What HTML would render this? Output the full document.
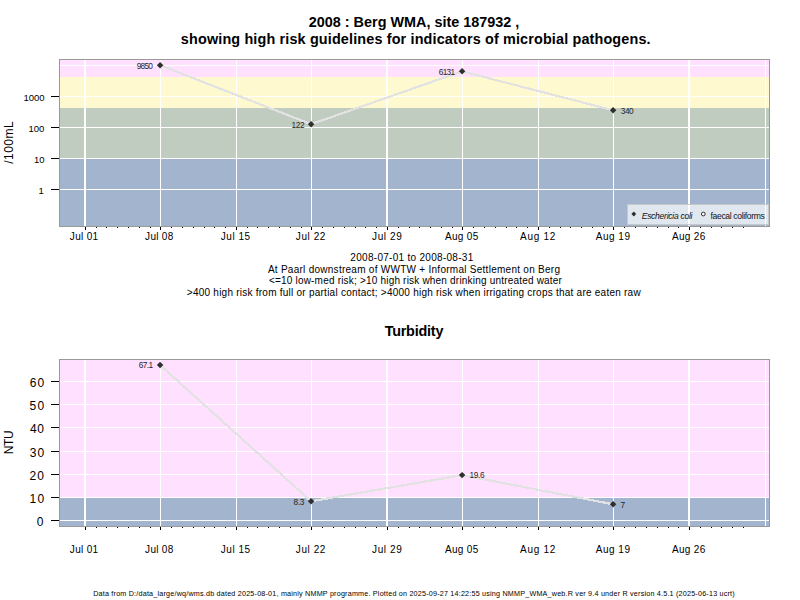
<!DOCTYPE html>
<html lang="en"><head><meta charset="utf-8"><title>2008 : Berg WMA, site 187932</title>
<style>
html,body{margin:0;padding:0;background:#fff;}
body{width:800px;height:600px;overflow:hidden;}
svg{display:block;}
text{font-family:"Liberation Sans", Arial, sans-serif;fill:#000;white-space:pre;}
.t10{font-size:10px;}
.t9{font-size:9.5px;}
.t12{font-size:12px;}
.ttl{font-size:14.4px;font-weight:bold;}
.lab{font-size:8.3px;fill:#262626;}
.leg{font-size:8.6px;fill:#111;}
.foot{font-size:7.2px;}
.ce{shape-rendering:crispEdges;}
</style></head><body>
<svg width="800" height="600" viewBox="0 0 800 600">
<rect x="0" y="0" width="800" height="600" fill="#ffffff"/>
<rect class="ce" x="60" y="60" width="709" height="17" fill="#FFE0FF"/>
<rect class="ce" x="60" y="77" width="709" height="31" fill="#FFF9D0"/>
<rect class="ce" x="60" y="108" width="709" height="51" fill="#C1CCC1"/>
<rect class="ce" x="60" y="159" width="709" height="67" fill="#A2B4CE"/>
<rect class="ce" x="60" y="65" width="709" height="1" fill="#fff"/>
<rect class="ce" x="60" y="96" width="709" height="1" fill="#fff"/>
<rect class="ce" x="60" y="127" width="709" height="1" fill="#fff"/>
<rect class="ce" x="60" y="158" width="709" height="1" fill="#fff"/>
<rect class="ce" x="60" y="189" width="709" height="1" fill="#fff"/>
<rect class="ce" x="84" y="60" width="2" height="166" fill="#fff"/>
<rect class="ce" x="160" y="60" width="1" height="166" fill="#fff"/>
<rect class="ce" x="236" y="60" width="1" height="166" fill="#fff"/>
<rect class="ce" x="311" y="60" width="1" height="166" fill="#fff"/>
<rect class="ce" x="386" y="60" width="2" height="166" fill="#fff"/>
<rect class="ce" x="462" y="60" width="1" height="166" fill="#fff"/>
<rect class="ce" x="538" y="60" width="1" height="166" fill="#fff"/>
<rect class="ce" x="613" y="60" width="1" height="166" fill="#fff"/>
<rect class="ce" x="688" y="60" width="2" height="166" fill="#fff"/>
<rect class="ce" x="765" y="60" width="1" height="166" fill="#fff"/>
<path d="M160.1 65.2 L311.1 124.2 L462.1 71.3 L613.1 110.3" fill="none" stroke="#E2E2E2" stroke-width="2.2" stroke-linejoin="round" shape-rendering="crispEdges"/>
<path d="M160.1 62L163.3 65.2L160.1 68.4L156.9 65.2Z" fill="#2E2E2E"/>
<path d="M311.1 121L314.3 124.2L311.1 127.4L307.9 124.2Z" fill="#2E2E2E"/>
<path d="M462.1 68.1L465.3 71.3L462.1 74.5L458.9 71.3Z" fill="#2E2E2E"/>
<path d="M613.1 107.1L616.3 110.3L613.1 113.5L609.9 110.3Z" fill="#2E2E2E"/>
<rect class="ce" x="627.5" y="204.5" width="141" height="20" fill="#ffffff" fill-opacity="0.68" stroke="#C8C8C8" stroke-width="1"/>
<path d="M633.8 211.6L636.2 214L633.8 216.4L631.4 214Z" fill="#2E2E2E"/>
<circle cx="703.3" cy="214" r="1.9" fill="#fff" fill-opacity="0.6" stroke="#222" stroke-width="0.9"/>
<rect class="ce" x="59.5" y="59.5" width="710" height="167" fill="none" stroke="#999999" stroke-width="1"/>
<rect class="ce" x="51" y="96" width="8" height="1" fill="#000"/>
<rect class="ce" x="51" y="127" width="8" height="1" fill="#000"/>
<rect class="ce" x="51" y="158" width="8" height="1" fill="#000"/>
<rect class="ce" x="51" y="189" width="8" height="1" fill="#000"/>
<rect class="ce" x="85" y="227" width="1" height="3" fill="#000"/>
<rect class="ce" x="160" y="227" width="1" height="3" fill="#000"/>
<rect class="ce" x="236" y="227" width="1" height="3" fill="#000"/>
<rect class="ce" x="311" y="227" width="1" height="3" fill="#000"/>
<rect class="ce" x="387" y="227" width="1" height="3" fill="#000"/>
<rect class="ce" x="462" y="227" width="1" height="3" fill="#000"/>
<rect class="ce" x="538" y="227" width="1" height="3" fill="#000"/>
<rect class="ce" x="613" y="227" width="1" height="3" fill="#000"/>
<rect class="ce" x="689" y="227" width="1" height="3" fill="#000"/>
<rect class="ce" x="96" y="227" width="1" height="1" fill="#000"/>
<rect class="ce" x="106" y="227" width="1" height="1" fill="#000"/>
<rect class="ce" x="117" y="227" width="1" height="1" fill="#000"/>
<rect class="ce" x="128" y="227" width="1" height="1" fill="#000"/>
<rect class="ce" x="139" y="227" width="1" height="1" fill="#000"/>
<rect class="ce" x="150" y="227" width="1" height="1" fill="#000"/>
<rect class="ce" x="171" y="227" width="1" height="1" fill="#000"/>
<rect class="ce" x="182" y="227" width="1" height="1" fill="#000"/>
<rect class="ce" x="193" y="227" width="1" height="1" fill="#000"/>
<rect class="ce" x="204" y="227" width="1" height="1" fill="#000"/>
<rect class="ce" x="214" y="227" width="1" height="1" fill="#000"/>
<rect class="ce" x="225" y="227" width="1" height="1" fill="#000"/>
<rect class="ce" x="247" y="227" width="1" height="1" fill="#000"/>
<rect class="ce" x="257" y="227" width="1" height="1" fill="#000"/>
<rect class="ce" x="268" y="227" width="1" height="1" fill="#000"/>
<rect class="ce" x="279" y="227" width="1" height="1" fill="#000"/>
<rect class="ce" x="290" y="227" width="1" height="1" fill="#000"/>
<rect class="ce" x="301" y="227" width="1" height="1" fill="#000"/>
<rect class="ce" x="322" y="227" width="1" height="1" fill="#000"/>
<rect class="ce" x="333" y="227" width="1" height="1" fill="#000"/>
<rect class="ce" x="344" y="227" width="1" height="1" fill="#000"/>
<rect class="ce" x="355" y="227" width="1" height="1" fill="#000"/>
<rect class="ce" x="365" y="227" width="1" height="1" fill="#000"/>
<rect class="ce" x="376" y="227" width="1" height="1" fill="#000"/>
<rect class="ce" x="398" y="227" width="1" height="1" fill="#000"/>
<rect class="ce" x="409" y="227" width="1" height="1" fill="#000"/>
<rect class="ce" x="419" y="227" width="1" height="1" fill="#000"/>
<rect class="ce" x="430" y="227" width="1" height="1" fill="#000"/>
<rect class="ce" x="441" y="227" width="1" height="1" fill="#000"/>
<rect class="ce" x="452" y="227" width="1" height="1" fill="#000"/>
<rect class="ce" x="473" y="227" width="1" height="1" fill="#000"/>
<rect class="ce" x="484" y="227" width="1" height="1" fill="#000"/>
<rect class="ce" x="495" y="227" width="1" height="1" fill="#000"/>
<rect class="ce" x="506" y="227" width="1" height="1" fill="#000"/>
<rect class="ce" x="516" y="227" width="1" height="1" fill="#000"/>
<rect class="ce" x="527" y="227" width="1" height="1" fill="#000"/>
<rect class="ce" x="549" y="227" width="1" height="1" fill="#000"/>
<rect class="ce" x="560" y="227" width="1" height="1" fill="#000"/>
<rect class="ce" x="570" y="227" width="1" height="1" fill="#000"/>
<rect class="ce" x="581" y="227" width="1" height="1" fill="#000"/>
<rect class="ce" x="592" y="227" width="1" height="1" fill="#000"/>
<rect class="ce" x="603" y="227" width="1" height="1" fill="#000"/>
<rect class="ce" x="624" y="227" width="1" height="1" fill="#000"/>
<rect class="ce" x="635" y="227" width="1" height="1" fill="#000"/>
<rect class="ce" x="646" y="227" width="1" height="1" fill="#000"/>
<rect class="ce" x="657" y="227" width="1" height="1" fill="#000"/>
<rect class="ce" x="668" y="227" width="1" height="1" fill="#000"/>
<rect class="ce" x="678" y="227" width="1" height="1" fill="#000"/>
<rect class="ce" x="700" y="227" width="1" height="1" fill="#000"/>
<rect class="ce" x="711" y="227" width="1" height="1" fill="#000"/>
<rect class="ce" x="721" y="227" width="1" height="1" fill="#000"/>
<rect class="ce" x="732" y="227" width="1" height="1" fill="#000"/>
<rect class="ce" x="743" y="227" width="1" height="1" fill="#000"/>
<rect class="ce" x="60" y="360" width="709" height="138" fill="#FFE0FF"/>
<rect class="ce" x="60" y="498" width="709" height="28" fill="#A2B4CE"/>
<rect class="ce" x="60" y="381" width="709" height="1" fill="#fff"/>
<rect class="ce" x="60" y="404" width="709" height="1" fill="#fff"/>
<rect class="ce" x="60" y="427" width="709" height="1" fill="#fff"/>
<rect class="ce" x="60" y="451" width="709" height="1" fill="#fff"/>
<rect class="ce" x="60" y="474" width="709" height="1" fill="#fff"/>
<rect class="ce" x="60" y="497" width="709" height="1" fill="#fff"/>
<rect class="ce" x="60" y="520" width="709" height="1" fill="#fff"/>
<rect class="ce" x="84" y="360" width="2" height="166" fill="#fff"/>
<rect class="ce" x="160" y="360" width="1" height="166" fill="#fff"/>
<rect class="ce" x="236" y="360" width="1" height="166" fill="#fff"/>
<rect class="ce" x="311" y="360" width="1" height="166" fill="#fff"/>
<rect class="ce" x="386" y="360" width="2" height="166" fill="#fff"/>
<rect class="ce" x="462" y="360" width="1" height="166" fill="#fff"/>
<rect class="ce" x="538" y="360" width="1" height="166" fill="#fff"/>
<rect class="ce" x="613" y="360" width="1" height="166" fill="#fff"/>
<rect class="ce" x="688" y="360" width="2" height="166" fill="#fff"/>
<rect class="ce" x="765" y="360" width="1" height="166" fill="#fff"/>
<path d="M160.1 365.049 L311.1 501.271 L462.1 475.093 L613.1 504.283" fill="none" stroke="#E2E2E2" stroke-width="2.2" stroke-linejoin="round" shape-rendering="crispEdges"/>
<path d="M160.1 361.849L163.3 365.049L160.1 368.249L156.9 365.049Z" fill="#2E2E2E"/>
<path d="M311.1 498.071L314.3 501.271L311.1 504.471L307.9 501.271Z" fill="#2E2E2E"/>
<path d="M462.1 471.893L465.3 475.093L462.1 478.293L458.9 475.093Z" fill="#2E2E2E"/>
<path d="M613.1 501.083L616.3 504.283L613.1 507.483L609.9 504.283Z" fill="#2E2E2E"/>
<rect class="ce" x="59.5" y="359.5" width="710" height="167" fill="none" stroke="#999999" stroke-width="1"/>
<rect class="ce" x="51" y="381" width="8" height="1" fill="#000"/>
<rect class="ce" x="51" y="404" width="8" height="1" fill="#000"/>
<rect class="ce" x="51" y="427" width="8" height="1" fill="#000"/>
<rect class="ce" x="51" y="451" width="8" height="1" fill="#000"/>
<rect class="ce" x="51" y="474" width="8" height="1" fill="#000"/>
<rect class="ce" x="51" y="497" width="8" height="1" fill="#000"/>
<rect class="ce" x="51" y="520" width="8" height="1" fill="#000"/>
<rect class="ce" x="85" y="527" width="1" height="3" fill="#000"/>
<rect class="ce" x="160" y="527" width="1" height="3" fill="#000"/>
<rect class="ce" x="236" y="527" width="1" height="3" fill="#000"/>
<rect class="ce" x="311" y="527" width="1" height="3" fill="#000"/>
<rect class="ce" x="387" y="527" width="1" height="3" fill="#000"/>
<rect class="ce" x="462" y="527" width="1" height="3" fill="#000"/>
<rect class="ce" x="538" y="527" width="1" height="3" fill="#000"/>
<rect class="ce" x="613" y="527" width="1" height="3" fill="#000"/>
<rect class="ce" x="689" y="527" width="1" height="3" fill="#000"/>
<rect class="ce" x="96" y="527" width="1" height="1" fill="#000"/>
<rect class="ce" x="106" y="527" width="1" height="1" fill="#000"/>
<rect class="ce" x="117" y="527" width="1" height="1" fill="#000"/>
<rect class="ce" x="128" y="527" width="1" height="1" fill="#000"/>
<rect class="ce" x="139" y="527" width="1" height="1" fill="#000"/>
<rect class="ce" x="150" y="527" width="1" height="1" fill="#000"/>
<rect class="ce" x="171" y="527" width="1" height="1" fill="#000"/>
<rect class="ce" x="182" y="527" width="1" height="1" fill="#000"/>
<rect class="ce" x="193" y="527" width="1" height="1" fill="#000"/>
<rect class="ce" x="204" y="527" width="1" height="1" fill="#000"/>
<rect class="ce" x="214" y="527" width="1" height="1" fill="#000"/>
<rect class="ce" x="225" y="527" width="1" height="1" fill="#000"/>
<rect class="ce" x="247" y="527" width="1" height="1" fill="#000"/>
<rect class="ce" x="257" y="527" width="1" height="1" fill="#000"/>
<rect class="ce" x="268" y="527" width="1" height="1" fill="#000"/>
<rect class="ce" x="279" y="527" width="1" height="1" fill="#000"/>
<rect class="ce" x="290" y="527" width="1" height="1" fill="#000"/>
<rect class="ce" x="301" y="527" width="1" height="1" fill="#000"/>
<rect class="ce" x="322" y="527" width="1" height="1" fill="#000"/>
<rect class="ce" x="333" y="527" width="1" height="1" fill="#000"/>
<rect class="ce" x="344" y="527" width="1" height="1" fill="#000"/>
<rect class="ce" x="355" y="527" width="1" height="1" fill="#000"/>
<rect class="ce" x="365" y="527" width="1" height="1" fill="#000"/>
<rect class="ce" x="376" y="527" width="1" height="1" fill="#000"/>
<rect class="ce" x="398" y="527" width="1" height="1" fill="#000"/>
<rect class="ce" x="409" y="527" width="1" height="1" fill="#000"/>
<rect class="ce" x="419" y="527" width="1" height="1" fill="#000"/>
<rect class="ce" x="430" y="527" width="1" height="1" fill="#000"/>
<rect class="ce" x="441" y="527" width="1" height="1" fill="#000"/>
<rect class="ce" x="452" y="527" width="1" height="1" fill="#000"/>
<rect class="ce" x="473" y="527" width="1" height="1" fill="#000"/>
<rect class="ce" x="484" y="527" width="1" height="1" fill="#000"/>
<rect class="ce" x="495" y="527" width="1" height="1" fill="#000"/>
<rect class="ce" x="506" y="527" width="1" height="1" fill="#000"/>
<rect class="ce" x="516" y="527" width="1" height="1" fill="#000"/>
<rect class="ce" x="527" y="527" width="1" height="1" fill="#000"/>
<rect class="ce" x="549" y="527" width="1" height="1" fill="#000"/>
<rect class="ce" x="560" y="527" width="1" height="1" fill="#000"/>
<rect class="ce" x="570" y="527" width="1" height="1" fill="#000"/>
<rect class="ce" x="581" y="527" width="1" height="1" fill="#000"/>
<rect class="ce" x="592" y="527" width="1" height="1" fill="#000"/>
<rect class="ce" x="603" y="527" width="1" height="1" fill="#000"/>
<rect class="ce" x="624" y="527" width="1" height="1" fill="#000"/>
<rect class="ce" x="635" y="527" width="1" height="1" fill="#000"/>
<rect class="ce" x="646" y="527" width="1" height="1" fill="#000"/>
<rect class="ce" x="657" y="527" width="1" height="1" fill="#000"/>
<rect class="ce" x="668" y="527" width="1" height="1" fill="#000"/>
<rect class="ce" x="678" y="527" width="1" height="1" fill="#000"/>
<rect class="ce" x="700" y="527" width="1" height="1" fill="#000"/>
<rect class="ce" x="711" y="527" width="1" height="1" fill="#000"/>
<rect class="ce" x="721" y="527" width="1" height="1" fill="#000"/>
<rect class="ce" x="732" y="527" width="1" height="1" fill="#000"/>
<rect class="ce" x="743" y="527" width="1" height="1" fill="#000"/>
<text id="t1" class="ttl" x="308.77" y="27" textLength="210.54" lengthAdjust="spacing">2008 : Berg WMA, site 187932 ,</text>
<text id="t2" class="ttl" x="180.87" y="44" textLength="469.70" lengthAdjust="spacing">showing high risk guidelines for indicators of microbial pathogens.</text>
<text id="d1_9850" class="lab" x="136.75" y="68.5" textLength="16.19" lengthAdjust="spacing">9850</text>
<text id="d1_122" class="lab" x="291.62" y="127.5" textLength="12.94" lengthAdjust="spacing">122</text>
<text id="d1_6131" class="lab" x="438.76" y="74.6" textLength="16.32" lengthAdjust="spacing">6131</text>
<text id="d1_340" class="lab" x="620.86" y="113.6" textLength="12.84" lengthAdjust="spacing">340</text>
<text id="lg1" class="leg" x="641.69" y="219" font-style="italic" textLength="50.81" lengthAdjust="spacing">Eschericia coli</text>
<text id="lg2" class="leg" x="710.60" y="219" textLength="54.14" lengthAdjust="spacing">faecal coliforms</text>
<text id="p1y1000" class="t9" x="23.49" y="101" textLength="20.98" lengthAdjust="spacing">1000</text>
<text id="p1y100" class="t9" x="28.60" y="132" textLength="15.80" lengthAdjust="spacing">100</text>
<text id="p1y10" class="t9" x="33.92" y="163" textLength="10.54" lengthAdjust="spacing">10</text>
<text id="p1y1" class="t9" x="38.49" y="194">1</text>
<text id="p1x0" class="t10" x="69.81" y="240" textLength="28.28" lengthAdjust="spacing">Jul 01</text>
<text id="p1x1" class="t10" x="145.09" y="240" textLength="28.16" lengthAdjust="spacing">Jul 08</text>
<text id="p1x2" class="t10" x="220.85" y="240" textLength="29.16" lengthAdjust="spacing">Jul 15</text>
<text id="p1x3" class="t10" x="295.85" y="240" textLength="29.56" lengthAdjust="spacing">Jul 22</text>
<text id="p1x4" class="t10" x="372.09" y="240" textLength="29.62" lengthAdjust="spacing">Jul 29</text>
<text id="p1x5" class="t10" x="444.88" y="240" textLength="33.38" lengthAdjust="spacing">Aug 05</text>
<text id="p1x6" class="t10" x="520.00" y="240" textLength="35.40" lengthAdjust="spacing">Aug 12</text>
<text id="p1x7" class="t10" x="595.78" y="240" textLength="34.21" lengthAdjust="spacing">Aug 19</text>
<text id="p1x8" class="t10" x="671.88" y="240" textLength="33.34" lengthAdjust="spacing">Aug 26</text>
<text id="yl1" class="t12" transform="translate(13,142.3) rotate(-90)" text-anchor="middle" letter-spacing="0.45">/100mL</text>
<text id="s0" class="t10" x="350.35" y="261" textLength="122.92" lengthAdjust="spacing">2008-07-01 to 2008-08-31</text>
<text id="s1" class="t10" x="267.89" y="272.5" textLength="292.05" lengthAdjust="spacing">At Paarl downstream of WWTW + Informal Settlement on Berg</text>
<text id="s2" class="t10" x="268.91" y="284" textLength="293.00" lengthAdjust="spacing">&lt;=10 low-med risk; &gt;10 high risk when drinking untreated water</text>
<text id="s3" class="t10" x="186.83" y="295.5" textLength="453.82" lengthAdjust="spacing">&gt;400 high risk from full or partial contact; &gt;4000 high risk when irrigating crops that are eaten raw</text>
<text id="t3" class="ttl" x="384.64" y="335.5" textLength="58.77" lengthAdjust="spacing">Turbidity</text>
<text id="d2_67.1" class="lab" x="138.76" y="368.349" textLength="14.42" lengthAdjust="spacing">67.1</text>
<text id="d2_8.3" class="lab" x="293.61" y="504.571" textLength="10.88" lengthAdjust="spacing">8.3</text>
<text id="d2_19.6" class="lab" x="469.38" y="478.393" textLength="15.16" lengthAdjust="spacing">19.6</text>
<text id="d2_7" class="lab" x="620.48" y="507.583">7</text>
<text id="p2y60" class="t12" x="29.66" y="387" textLength="14.50" lengthAdjust="spacing">60</text>
<text id="p2y50" class="t12" x="29.62" y="410" textLength="14.54" lengthAdjust="spacing">50</text>
<text id="p2y40" class="t12" x="29.92" y="433" textLength="14.02" lengthAdjust="spacing">40</text>
<text id="p2y30" class="t12" x="29.68" y="457" textLength="14.47" lengthAdjust="spacing">30</text>
<text id="p2y20" class="t12" x="29.57" y="480" textLength="14.38" lengthAdjust="spacing">20</text>
<text id="p2y10" class="t12" x="29.41" y="503" textLength="14.74" lengthAdjust="spacing">10</text>
<text id="p2y0" class="t12" x="36.73" y="526">0</text>
<text id="p2x0" class="t10" x="69.81" y="552.5" textLength="28.28" lengthAdjust="spacing">Jul 01</text>
<text id="p2x1" class="t10" x="145.09" y="552.5" textLength="28.16" lengthAdjust="spacing">Jul 08</text>
<text id="p2x2" class="t10" x="220.85" y="552.5" textLength="29.16" lengthAdjust="spacing">Jul 15</text>
<text id="p2x3" class="t10" x="295.85" y="552.5" textLength="29.56" lengthAdjust="spacing">Jul 22</text>
<text id="p2x4" class="t10" x="372.09" y="552.5" textLength="29.62" lengthAdjust="spacing">Jul 29</text>
<text id="p2x5" class="t10" x="444.88" y="552.5" textLength="33.38" lengthAdjust="spacing">Aug 05</text>
<text id="p2x6" class="t10" x="520.00" y="552.5" textLength="35.40" lengthAdjust="spacing">Aug 12</text>
<text id="p2x7" class="t10" x="595.78" y="552.5" textLength="34.21" lengthAdjust="spacing">Aug 19</text>
<text id="p2x8" class="t10" x="671.88" y="552.5" textLength="33.34" lengthAdjust="spacing">Aug 26</text>
<text id="yl2" class="t12" transform="translate(13,442.4) rotate(-90)" text-anchor="middle" letter-spacing="-0.35">NTU</text>
<text id="ft" class="foot" x="93.17" y="595.5" textLength="641.53" lengthAdjust="spacing">Data from D:/data_large/wq/wms.db dated 2025-08-01, mainly NMMP programme. Plotted on 2025-09-27 14:22:55 using NMMP_WMA_web.R ver 9.4 under R version 4.5.1 (2025-06-13 ucrt)</text>
</svg></body></html>
